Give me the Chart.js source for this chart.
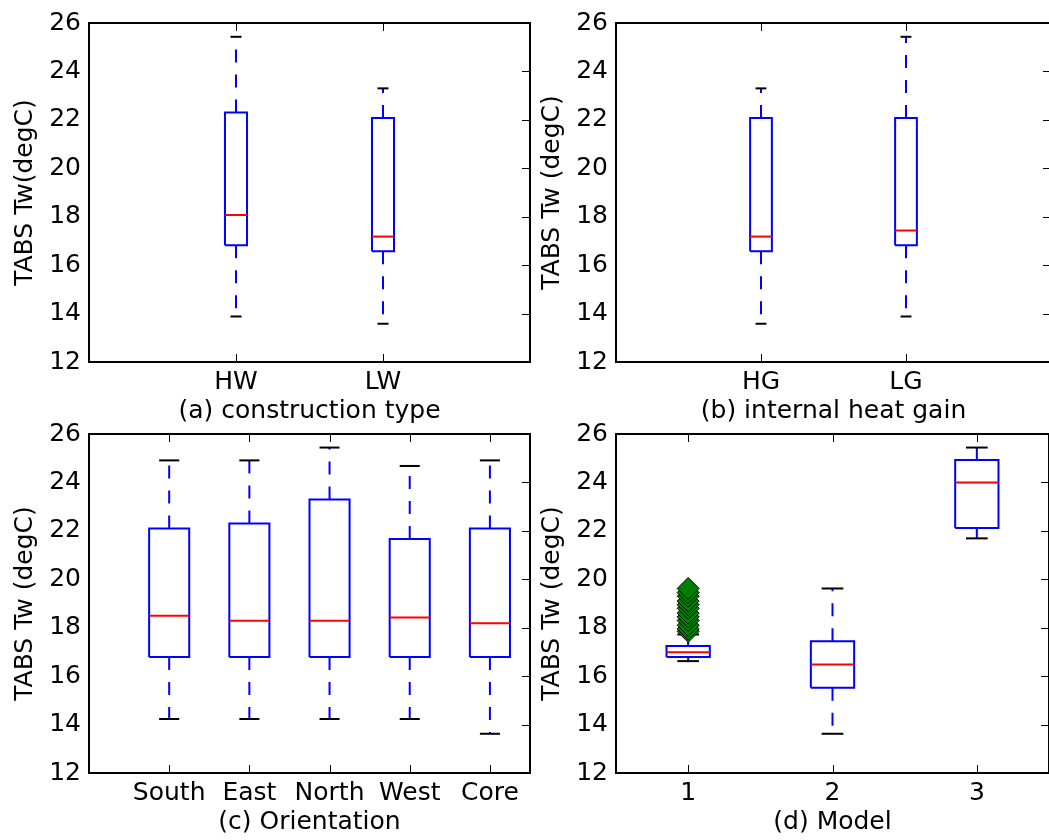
<!DOCTYPE html>
<html>
<head>
<meta charset="utf-8">
<script src="https://cdn.jsdelivr.net/npm/chart.js@4/dist/chart.umd.min.js"></script>
<style>
html,body{margin:0;padding:0;background:#fff;width:1049px;height:840px;overflow:hidden;position:relative}
canvas{position:absolute;background:transparent}
</style>
</head>
<body>
<canvas id="ca" width="540" height="440" style="left:0px;top:0px;width:540px;height:440px"></canvas>
<canvas id="cb" width="534" height="440" style="left:527px;top:0px;width:534px;height:440px"></canvas>
<canvas id="cc" width="540" height="440" style="left:0px;top:411px;width:540px;height:440px"></canvas>
<canvas id="cd" width="534" height="440" style="left:527px;top:411px;width:534px;height:440px"></canvas>
<script>
// ---- Data ----
// (a) construction type
const aCategories = ['HW', 'LW'];
const aLow  = [13.88, 13.58];
const aQ1   = [16.82, 16.57];
const aMed  = [18.07, 17.18];
const aQ3   = [22.30, 22.08];
const aHigh = [25.43, 23.30];

// (b) internal heat gain
const bCategories = ['HG', 'LG'];
const bLow  = [13.58, 13.88];
const bQ1   = [16.57, 16.82];
const bMed  = [17.18, 17.43];
const bQ3   = [22.08, 22.08];
const bHigh = [23.30, 25.43];

// (c) Orientation
const cCategories = ['South', 'East', 'North', 'West', 'Core'];
const cLow  = [14.23, 14.23, 14.23, 14.23, 13.62];
const cQ1   = [16.79, 16.79, 16.79, 16.79, 16.79];
const cMed  = [18.49, 18.29, 18.29, 18.42, 18.18];
const cQ3   = [22.10, 22.30, 23.30, 21.66, 22.10];
const cHigh = [24.91, 24.91, 25.44, 24.68, 24.91];

// (d) Model
const dCategories = ['1', '2', '3'];
const dLow  = [16.62, 13.62, 21.69];
const dQ1   = [16.79, 15.52, 22.12];
const dMed  = [16.99, 16.48, 24.00];
const dQ3   = [17.24, 17.44, 24.93];
const dHigh = [17.72, 19.62, 25.44];
const dOutliersModel1 = [17.85, 17.95, 18.1, 18.3, 18.45, 18.6, 18.8, 18.95, 19.1, 19.3, 19.45, 19.62];

const yTicks = [12, 14, 16, 18, 20, 22, 24, 26];

// ---- Styling / helpers ----
Chart.defaults.font.family = "'DejaVu Sans', sans-serif";
Chart.defaults.color = '#000';

const FONT = {family: "'DejaVu Sans', sans-serif", size: 25};
const BLUE = '#0000ff', RED = '#ff0000', BLACK = '#000000', GREEN = '#008000';

const framePlugin = {
  id: 'frame',
  afterDatasetsDraw(chart) {
    const {ctx, chartArea: a, scales} = chart;
    ctx.save();
    ctx.strokeStyle = BLACK;
    ctx.lineWidth = 1;
    // inward tick marks: top, bottom (x) and right (y)
    ctx.beginPath();
    scales.x.ticks.forEach(t => {
      const px = Math.round(scales.x.getPixelForValue(t.value)) + 0.5;
      ctx.moveTo(px, a.bottom); ctx.lineTo(px, a.bottom - 8);
      ctx.moveTo(px, a.top); ctx.lineTo(px, a.top + 8);
    });
    scales.y.ticks.forEach(t => {
      const py = Math.round(scales.y.getPixelForValue(t.value)) + 0.5;
      ctx.moveTo(a.right, py); ctx.lineTo(a.right - 8, py);
    });
    ctx.stroke();
    ctx.lineWidth = 2;
    ctx.strokeRect(a.left, a.top, a.right - a.left, a.bottom - a.top);
    ctx.restore();
  }
};

function seg(points, color, dash, order) {
  return {
    type: 'scatter', data: points, showLine: true, borderColor: color,
    backgroundColor: color, borderWidth: 2, pointRadius: 0, pointHoverRadius: 0,
    borderDash: dash || [], borderCapStyle: 'butt', tension: 0, fill: false,
    order: order === undefined ? 2 : order
  };
}

function makePanel(id, categories, low, q1, med, q3, high, xMin, xMax, yTitle, xTitle, outliers) {
  const positions = categories.map((c, i) => i + 1);
  const extent = Math.max(positions[positions.length - 1] - positions[0], 1);
  const w = Math.min(0.15 * extent, 0.5);
  const datasets = [];
  positions.forEach((p, i) => {
    // box
    datasets.push(seg([
      {x: p - w / 2, y: q1[i]}, {x: p + w / 2, y: q1[i]},
      {x: p + w / 2, y: q3[i]}, {x: p - w / 2, y: q3[i]}, {x: p - w / 2, y: q1[i]}
    ], BLUE, [], 2));
    // whiskers (dashed, starting at the box)
    datasets.push(seg([{x: p, y: q3[i]}, {x: p, y: high[i]}], BLUE, [13, 12], 3));
    datasets.push(seg([{x: p, y: q1[i]}, {x: p, y: low[i]}], BLUE, [13, 12], 3));
    // caps
    datasets.push(seg([{x: p - w / 4, y: high[i]}, {x: p + w / 4, y: high[i]}], BLACK, [], 2));
    datasets.push(seg([{x: p - w / 4, y: low[i]}, {x: p + w / 4, y: low[i]}], BLACK, [], 2));
    // median
    datasets.push(seg([{x: p - w / 2, y: med[i]}, {x: p + w / 2, y: med[i]}], RED, [], 1));
  });
  if (outliers) {
    outliers.forEach(o => {
      datasets.push({
        type: 'scatter',
        data: o.values.map(v => ({x: o.position, y: v})),
        pointStyle: 'rectRot', pointRadius: 11, pointHoverRadius: 11,
        pointBackgroundColor: GREEN, pointBorderColor: BLACK, pointBorderWidth: 1,
        showLine: false, order: 0
      });
    });
  }
  return new Chart(document.getElementById(id), {
    type: 'scatter',
    data: {datasets},
    options: {
      responsive: false, animation: false, events: [],
      layout: {padding: {left: 0, top: 20, right: 10, bottom: 0}},
      plugins: {legend: {display: false}, tooltip: {enabled: false}},
      scales: {
        x: {
          type: 'linear', min: xMin, max: xMax,
          grid: {display: false, drawTicks: false}, border: {display: false},
          afterBuildTicks: s => { s.ticks = positions.map(v => ({value: v})); },
          afterFit: s => { s.height = 78; },
          ticks: {font: FONT, color: BLACK, padding: 5, maxRotation: 0, autoSkip: false,
                  callback: (v, i) => categories[i]},
          title: {display: true, text: xTitle, font: FONT, color: BLACK, padding: {top: 0, bottom: 14}}
        },
        y: {
          type: 'linear', min: 12, max: 26,
          grid: {display: false, drawTicks: false}, border: {display: false},
          afterBuildTicks: s => { s.ticks = yTicks.map(v => ({value: v})); },
          afterFit: s => { s.width = 89; },
          ticks: {font: FONT, color: BLACK, padding: 8, callback: v => String(v)},
          title: {display: true, text: yTitle, font: FONT, color: BLACK, padding: {top: 10, bottom: 0}}
        }
      }
    },
    plugins: [framePlugin]
  });
}

makePanel('ca', aCategories, aLow, aQ1, aMed, aQ3, aHigh, 0, 3, 'TABS Tw(degC)', '(a) construction type');
makePanel('cb', bCategories, bLow, bQ1, bMed, bQ3, bHigh, 0, 3, 'TABS Tw (degC)', '(b) internal heat gain');
makePanel('cc', cCategories, cLow, cQ1, cMed, cQ3, cHigh, 0, 5.5, 'TABS Tw (degC)', '(c) Orientation');
makePanel('cd', dCategories, dLow, dQ1, dMed, dQ3, dHigh, 0.5, 3.5, 'TABS Tw (degC)', '(d) Model',
  [{position: 1, values: dOutliersModel1}]);
</script>
</body>
</html>
